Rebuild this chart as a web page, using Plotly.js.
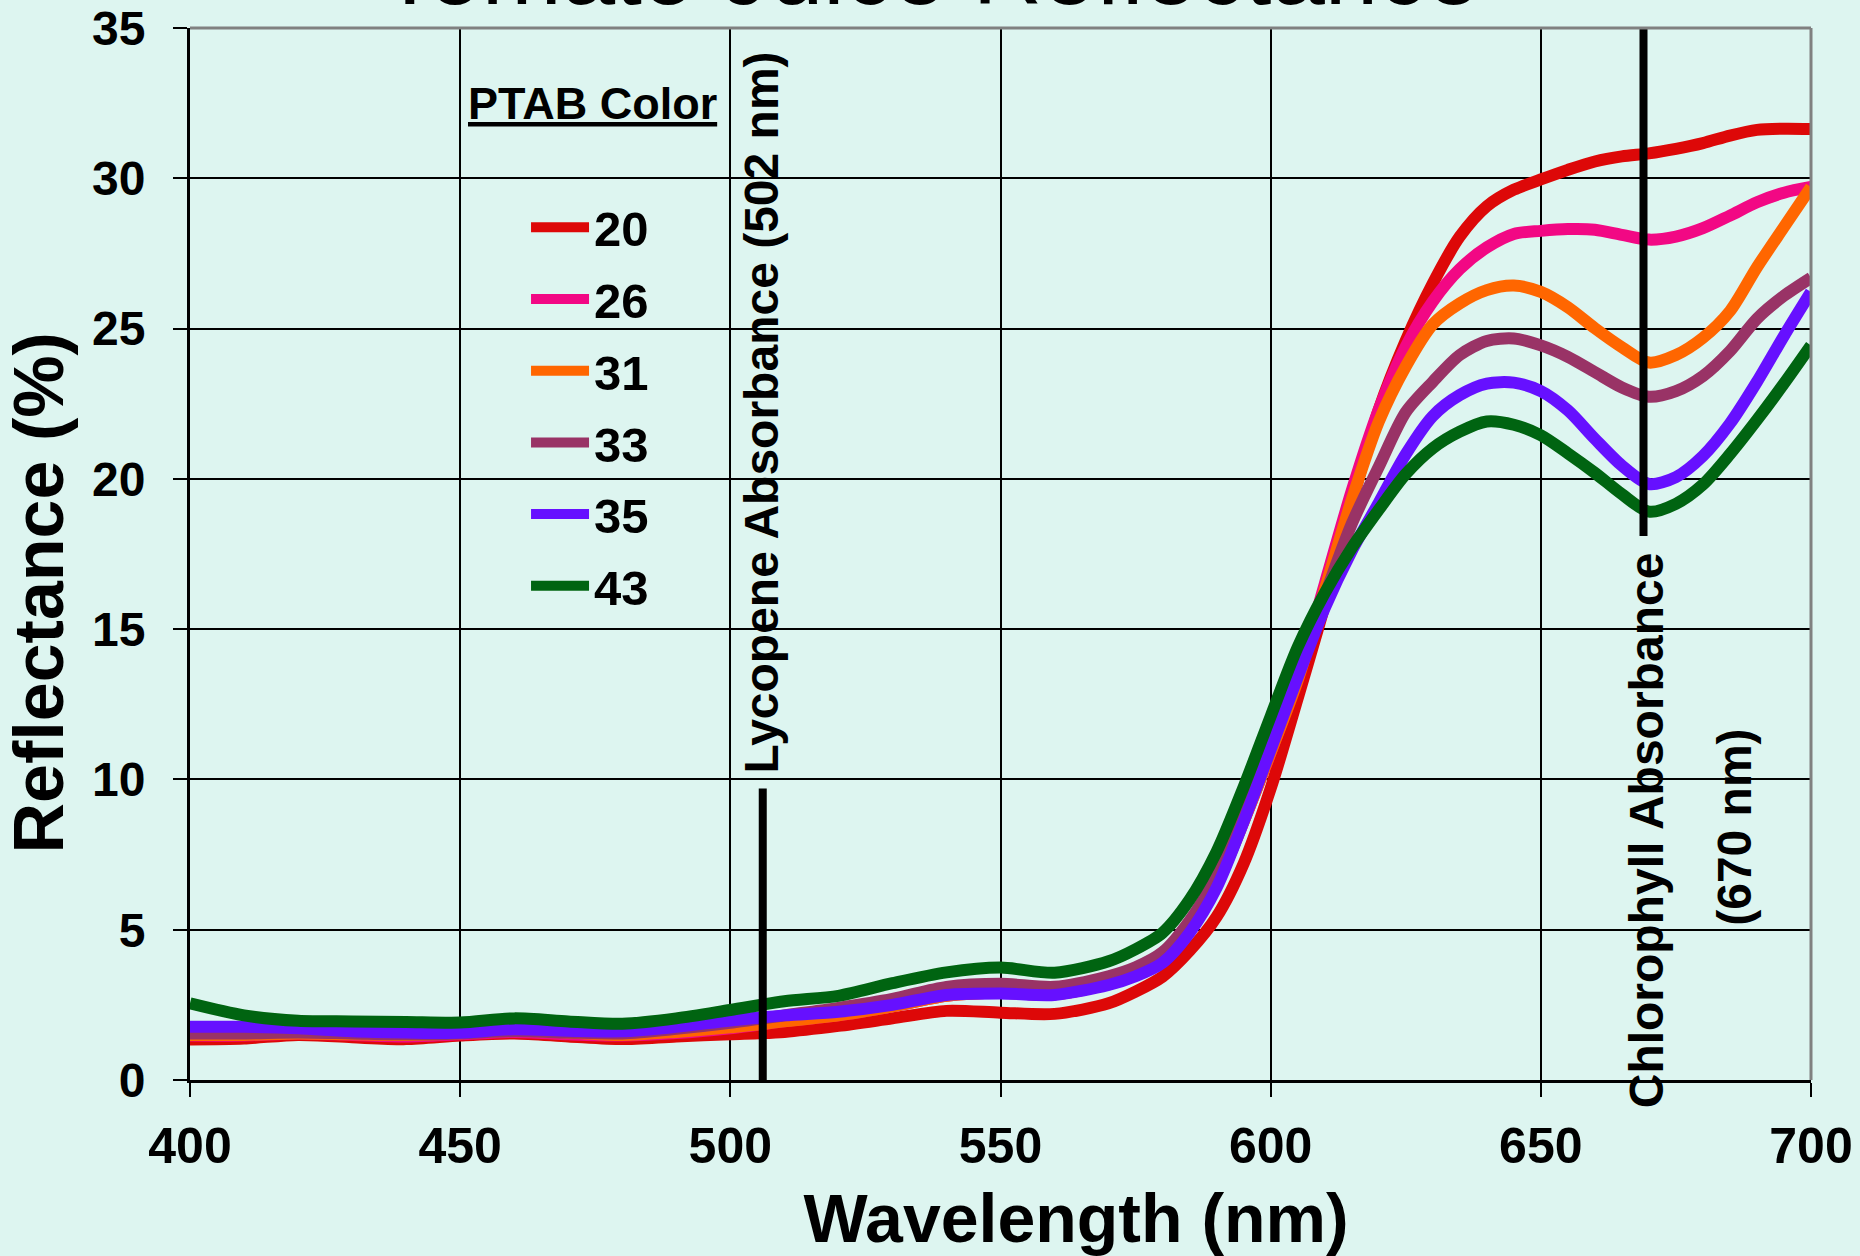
<!DOCTYPE html>
<html>
<head>
<meta charset="utf-8">
<script src="https://cdn.plot.ly/plotly-3.0.1.min.js"></script>
<style>
  html, body { margin: 0; padding: 0; background: #ddf5f0; }
  #chart { width: 1860px; height: 1256px; }
</style>
</head>
<body>
<div id="chart"></div>
<script>
// ---- data ----
const wavelengths = [400,410,420,430,440,450,460,470,480,490,500,510,520,530,540,550,560,570,
  575,580,585,590,595,600,605,610,615,620,625,630,635,640,645,650,655,660,665,670,675,680,685,690,695,700];

const seriesNames = ['20','26','31','33','35','43'];

const ptab20 = [1.35,1.38,1.5,1.42,1.36,1.48,1.55,1.45,1.36,1.45,1.52,1.6,1.8,2.05,2.3,2.24,2.2,2.55,
  2.94,3.44,4.3,5.43,7.2,9.7,12.7,15.8,19.2,22.3,24.6,26.5,28.06,29.07,29.62,29.96,30.28,30.56,30.73,30.83,30.98,31.17,31.42,31.61,31.65,31.64];
const ptab26 = [1.48,1.48,1.55,1.5,1.45,1.52,1.6,1.52,1.48,1.56,1.72,1.95,2.15,2.45,2.8,2.9,2.85,3.2,
  3.5,4.05,5.0,6.5,8.6,10.9,13.4,16.5,19.6,22.3,24.4,25.9,26.98,27.7,28.15,28.25,28.31,28.29,28.12,27.96,28.06,28.34,28.76,29.2,29.52,29.71];
const ptab31 = [1.5,1.5,1.55,1.52,1.5,1.55,1.65,1.58,1.5,1.6,1.75,1.95,2.15,2.45,2.8,2.9,2.85,3.2,
  3.5,4.05,5.0,6.5,8.6,10.9,13.3,16.3,19.3,21.9,23.74,25.14,25.84,26.28,26.43,26.22,25.71,25.01,24.38,23.87,24.12,24.69,25.58,27.04,28.38,29.71];
const ptab33 = [1.55,1.55,1.58,1.55,1.52,1.55,1.63,1.58,1.55,1.7,1.9,2.15,2.4,2.7,3.1,3.2,3.1,3.45,
  3.75,4.25,5.3,6.8,8.9,11.2,13.6,16.1,18.5,20.4,22.22,23.23,24.12,24.59,24.67,24.44,24.06,23.55,23.04,22.73,22.92,23.42,24.25,25.33,26.09,26.69];
const ptab35 = [1.77,1.77,1.72,1.62,1.58,1.57,1.69,1.64,1.62,1.77,1.98,2.15,2.27,2.5,2.83,2.88,2.83,3.16,
  3.45,3.9,4.9,6.4,8.6,11.0,13.4,15.7,17.6,19.2,20.82,22.09,22.79,23.17,23.2,22.92,22.28,21.33,20.44,19.83,20.06,20.76,21.84,23.23,24.76,26.22];
const ptab43 = [2.55,2.15,1.97,1.95,1.93,1.91,2.05,1.95,1.87,2.05,2.33,2.62,2.8,3.22,3.58,3.74,3.57,3.95,
  4.35,4.9,6.0,7.6,9.75,12.1,14.4,16.2,17.7,18.97,20.16,21.02,21.57,21.91,21.8,21.45,20.85,20.2,19.49,18.91,19.17,19.81,20.82,21.96,23.17,24.44];

// absorbance marker lines (wavelength, from, to)
const markerX = [506, 669];
const markerYFrom = [0, 18.1];
const markerYTo = [9.7, 35];

const xTickVals = [400,450,500,550,600,650,700];
const yTickVals = [0,5,10,15,20,25,30,35];

// ---- styles ----
const seriesValues = [ptab20, ptab26, ptab31, ptab33, ptab35, ptab43];
const colors = ['#dd0808','#f20884','#ff6600','#993366','#6610ff','#006411'];
const FONT = 'Liberation Sans, Arial, sans-serif';
const BG = '#ddf5f0';

const traces = seriesNames.map((name, i) => ({
  type: 'scatter',
  mode: 'lines',
  name: name,
  x: wavelengths,
  y: seriesValues[i],
  legendgroup: 'g' + i,
  line: { color: colors[i], width: 12, shape: 'spline', smoothing: 0.8 },
  hoverinfo: 'x+y+name'
}));

const shapes = markerX.map((x, i) => ({
  type: 'line', xref: 'x', yref: 'y',
  x0: x, x1: x, y0: markerYFrom[i], y1: markerYTo[i],
  line: { color: '#000000', width: 8 }
}));
// grey top and right frame
shapes.push({ type: 'line', xref: 'paper', yref: 'paper', x0: 0, x1: 1, y0: 1, y1: 1, line: { color: '#808080', width: 3 } });
shapes.push({ type: 'line', xref: 'paper', yref: 'paper', x0: 1, x1: 1, y0: 0, y1: 1, line: { color: '#808080', width: 3 } });

const zw = '\u200b', nb = '\u00a0';
const layout = {
  width: 1860, height: 1256,
  paper_bgcolor: BG, plot_bgcolor: BG,
  margin: { l: 190, r: 49, t: 28, b: 176, pad: 0 },
  font: { family: FONT, color: '#000000' },
  title: {
    text: 'Tomato Juice Reflectance',
    font: { family: FONT, size: 96, color: '#000000' },
    x: 0.5, xref: 'container', xanchor: 'center',
    y: 1 - 4 / 1256, yref: 'container', yanchor: 'bottom'
  },
  xaxis: {
    range: [400, 700], tickvals: xTickVals, ticktext: xTickVals.map(String),
    showgrid: true, gridcolor: '#000000', gridwidth: 2,
    zeroline: false, showline: true, linecolor: '#000000', linewidth: 3,
    ticks: 'outside', ticklen: 14, tickwidth: 2, tickcolor: '#000000',
    ticklabelstandoff: 6,
    tickfont: { family: FONT, size: 50, weight: 'bold', color: '#000000' },
    title: { text: zw + nb.repeat(8) + 'Wavelength (nm)', font: { family: FONT, size: 68, weight: 'bold', color: '#000000' }, standoff: 42 }
  },
  yaxis: {
    range: [0, 35], tickvals: yTickVals, ticktext: yTickVals.map(String),
    showgrid: true, gridcolor: '#000000', gridwidth: 2,
    zeroline: false, showline: true, linecolor: '#000000', linewidth: 3,
    ticks: 'outside', ticklen: 14, tickwidth: 2, tickcolor: '#000000',
    ticklabelstandoff: 18,
    tickfont: { family: FONT, size: 48, weight: 'bold', color: '#000000' },
    title: { text: 'Reflectance (%)' + nb.repeat(4) + zw, font: { family: FONT, size: 70, weight: 'bold', color: '#000000' }, standoff: 11 }
  },
  showlegend: true,
  legend: {
    x: 0.2073, y: 0.847, xanchor: 'left', yanchor: 'top',
    bgcolor: 'rgba(0,0,0,0)', borderwidth: 0,
    itemwidth: 58, tracegroupgap: 5,
    font: { family: FONT, size: 49, weight: 'bold', color: '#000000' }
  },
  shapes: shapes,
  annotations: [
    { text: '<u>PTAB Color</u>', xref: 'x', yref: 'y', x: 451.1, y: 32.5, xanchor: 'left', yanchor: 'middle',
      showarrow: false, font: { family: FONT, size: 45, weight: 'bold', color: '#000000' } },
    { text: 'Lycopene Absorbance (502 nm)', xref: 'x', yref: 'y', x: 505.8, y: 22.2, textangle: -90,
      xanchor: 'center', yanchor: 'middle', showarrow: false,
      font: { family: FONT, size: 48, weight: 'bold', color: '#000000' } },
    { text: 'Chlorophyll Absorbance', xref: 'x', yref: 'y', x: 669.6, y: 8.3, textangle: -90,
      xanchor: 'center', yanchor: 'middle', showarrow: false,
      font: { family: FONT, size: 48, weight: 'bold', color: '#000000' } },
    { text: '(670 nm)', xref: 'x', yref: 'y', x: 685.8, y: 8.4, textangle: -90,
      xanchor: 'center', yanchor: 'middle', showarrow: false,
      font: { family: FONT, size: 48, weight: 'bold', color: '#000000' } }
  ]
};

Plotly.newPlot('chart', traces, layout, { displayModeBar: false, responsive: false });
</script>
</body>
</html>
